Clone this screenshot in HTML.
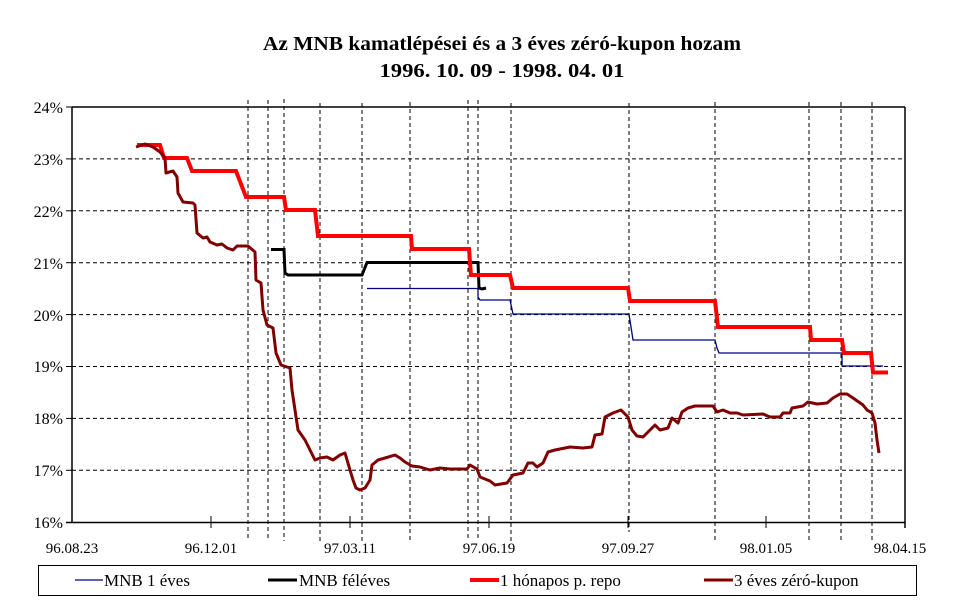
<!DOCTYPE html>
<html><head><meta charset="utf-8"><style>
html,body{margin:0;padding:0;background:#fff;}
svg, svg text{font-family:"Liberation Serif","Times New Roman",Times,serif;}
</style></head><body>
<svg width="969" height="603" viewBox="0 0 969 603" xmlns="http://www.w3.org/2000/svg" font-family="Liberation Serif, Times New Roman, serif">
<rect width="969" height="603" fill="#fff"/>
<text x="502" y="50" text-anchor="middle" font-size="20" font-weight="bold" textLength="478" lengthAdjust="spacingAndGlyphs">Az MNB kamatlépései  és a 3 éves zéró-kupon hozam</text>
<text x="502" y="77" text-anchor="middle" font-size="20" font-weight="bold" textLength="245" lengthAdjust="spacingAndGlyphs">1996. 10. 09  -  1998. 04. 01</text>
<g stroke="#000" stroke-width="1" stroke-dasharray="4,3">
<line x1="72" y1="158.9" x2="904" y2="158.9"/>
<line x1="72" y1="210.8" x2="904" y2="210.8"/>
<line x1="72" y1="262.7" x2="904" y2="262.7"/>
<line x1="72" y1="314.6" x2="904" y2="314.6"/>
<line x1="72" y1="366.5" x2="904" y2="366.5"/>
<line x1="72" y1="418.4" x2="904" y2="418.4"/>
<line x1="72" y1="470.3" x2="904" y2="470.3"/>
<line x1="248" y1="100" x2="248" y2="541"/>
<line x1="268" y1="100" x2="268" y2="541"/>
<line x1="284" y1="99" x2="284" y2="541"/>
<line x1="320" y1="103" x2="320" y2="541"/>
<line x1="362" y1="103" x2="362" y2="541"/>
<line x1="410" y1="102" x2="410" y2="541"/>
<line x1="468" y1="100" x2="468" y2="541"/>
<line x1="478" y1="100" x2="478" y2="541"/>
<line x1="511" y1="103" x2="511" y2="541"/>
<line x1="629" y1="103" x2="629" y2="532"/>
<line x1="715" y1="102" x2="715" y2="541"/>
<line x1="809" y1="102" x2="809" y2="541"/>
<line x1="841" y1="102" x2="841" y2="541"/>
<line x1="872" y1="102" x2="872" y2="541"/>
</g>
<g stroke="#000" stroke-width="1.5" fill="none">
<line x1="72" y1="107" x2="905" y2="107"/>
<line x1="72" y1="107" x2="72" y2="522"/>
<line x1="905" y1="107" x2="905" y2="528"/>
<line x1="66" y1="522.5" x2="905" y2="522.5"/>
</g>
<g stroke="#000" stroke-width="1">
<line x1="66" y1="107" x2="72" y2="107"/>
<line x1="66" y1="158.9" x2="72" y2="158.9"/>
<line x1="66" y1="210.8" x2="72" y2="210.8"/>
<line x1="66" y1="262.7" x2="72" y2="262.7"/>
<line x1="66" y1="314.6" x2="72" y2="314.6"/>
<line x1="66" y1="366.5" x2="72" y2="366.5"/>
<line x1="66" y1="418.4" x2="72" y2="418.4"/>
<line x1="66" y1="470.3" x2="72" y2="470.3"/>
<line x1="211" y1="516" x2="211" y2="528"/>
<line x1="350" y1="516" x2="350" y2="528"/>
<line x1="489" y1="516" x2="489" y2="528"/>
<line x1="628" y1="516" x2="628" y2="528"/>
<line x1="766" y1="516" x2="766" y2="528"/>
</g>
<g font-size="16" text-anchor="end">
<text x="63" y="113">24%</text>
<text x="63" y="165">23%</text>
<text x="63" y="217">22%</text>
<text x="63" y="269">21%</text>
<text x="63" y="321">20%</text>
<text x="63" y="372">19%</text>
<text x="63" y="424">18%</text>
<text x="63" y="476">17%</text>
<text x="63" y="528">16%</text>
</g>
<g font-size="15" text-anchor="middle">
<text x="72" y="553">96.08.23</text>
<text x="211" y="553">96.12.01</text>
<text x="350" y="553">97.03.11</text>
<text x="489" y="553">97.06.19</text>
<text x="628" y="553">97.09.27</text>
<text x="766" y="553">98.01.05</text>
<text x="900" y="553">98.04.15</text>
</g>
<polyline fill="none" stroke="#000080" stroke-width="1.3" points="367,288.5 478,288.5 478,297 480,300 510,300 513,314 629,314 631,327 633,340 715,340 717,348 719,353 842,353 842,366 883,366"/>
<polyline fill="none" stroke="#000" stroke-width="3" points="271,249.5 284,249.5 285,273 288,275 362,275 364,270 367,262.5 478,262.5 479,288 482,289 486,288"/>
<polyline fill="none" stroke="#ff0000" stroke-width="4" points="137,145 160,145 164,158 187,158 192,171 236,171 246,197 284,197 286,210 315,210 318,236 411,236 412,249 469,249 471,275 510,275 513,288 628,288 630,301 715,301 718,327 810,327 811,340 842,340 844,353 871,353 873,372.5 888,372.5"/>
<polyline fill="none" stroke="#800000" stroke-width="3" stroke-linejoin="round" points="136,147 145,144 153,147 160,152 165,158 166,173 173,171 177,177 178,193 183,202 193,203 195,205 197,233 203,238 207,237 210,242 217,245 222,244 227,248 233,250 237,246 248,246 255,252 256,280 261,283 263,310 267,325 273,328 276,353 281,365 290,368 292,390 295,410 298,430 305,440 310,450 315,460 320,458 327,457 333,460 340,455 345,453 350,470 353,480 356,488 360,490 365,488 370,480 372,465 378,460 385,458 395,455 400,458 405,462 412,466 420,467 430,470 440,468 450,469 467,469 470,465 477,469 480,477 490,481 495,485 507,483 513,475 523,473 528,463 533,463 537,467 543,463 548,452 555,450 565,448 570,447 583,448 592,447 595,435 602,434 605,417 613,413 621,410 628,417 632,430 637,436 643,437 650,430 655,425 660,430 668,428 672,418 678,423 682,412 688,408 695,406 713,406 717,412 723,410 730,413 737,413 743,415 763,414 770,417 780,417 783,413 790,413 792,408 803,406 808,402 817,404 827,403 833,398 840,394 847,394 853,398 863,405 867,410 872,413 875,423 877,440 879,453"/>
<rect x="38.5" y="565.5" width="878" height="30" fill="none" stroke="#000" stroke-width="1"/>
<line x1="75" y1="580" x2="103" y2="580" stroke="#000080" stroke-width="1.3"/>
<line x1="268" y1="580" x2="297" y2="580" stroke="#000" stroke-width="3"/>
<line x1="470" y1="580" x2="499" y2="580" stroke="#ff0000" stroke-width="4"/>
<line x1="704" y1="580" x2="733" y2="580" stroke="#800000" stroke-width="3"/>
<g font-size="17">
<text x="104" y="586">MNB 1 éves</text>
<text x="299" y="586">MNB féléves</text>
<text x="500" y="586">1 hónapos p. repo</text>
<text x="734" y="586">3 éves zéró-kupon</text>
</g>
</svg>
</body></html>
